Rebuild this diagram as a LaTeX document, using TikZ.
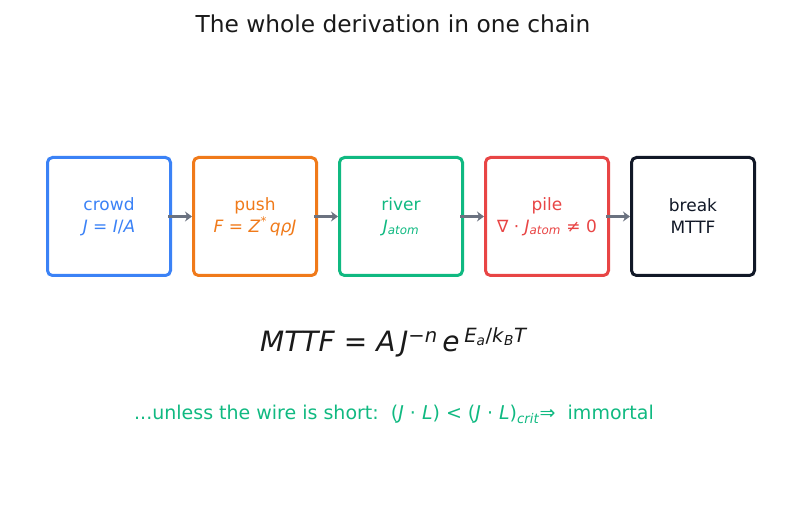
\documentclass[tikz,border=0pt]{standalone}
\usepackage{fontspec}
\setmainfont{DejaVu Sans}
\usetikzlibrary{positioning,arrows.meta}

\definecolor{crowdblue}{HTML}{3B82F6}
\definecolor{pushorange}{HTML}{F07A1A}
\definecolor{rivergreen}{HTML}{10B981}
\definecolor{pilered}{HTML}{E84545}
\definecolor{breakblack}{HTML}{111827}
\definecolor{arrowgray}{HTML}{6B7280}
\definecolor{inkblack}{HTML}{1A1A1A}

\newcommand{\mi}[1]{\textit{#1}}

\begin{document}
\begin{tikzpicture}[x=1pt, y=-1pt,
  stage/.style={draw, line width=3pt, rounded corners=5pt, minimum width=123pt,
    minimum height=118pt, align=center, font=\fontsize{17}{22}\selectfont},
  flow/.style={-{Stealth[length=7pt,width=10pt]}, line width=3.5pt, color=arrowgray,
    shorten <=-4pt}]
  \useasboundingbox (0,0) rectangle (787,510);

  \node[font=\fontsize{23.3}{28}\selectfont, text=inkblack] (title) at (393,24)
    {The whole derivation in one chain};

  % the chain
  \node[stage, color=crowdblue] (crowd) at (109,216.5) {crowd\\\mi{J} = \mi{I}/\mi{A}};
  \node[stage, color=pushorange, right=20pt of crowd] (push)
    {push\\\mi{F} = \mi{Z}\textsuperscript{*}\,\mi{qρJ}};
  \node[stage, color=rivergreen, right=20pt of push] (river)
    {river\\\mi{J}\textsubscript{\mi{atom}}};
  \node[stage, color=pilered, right=20pt of river] (pile)
    {pile\\∇ · \mi{J}\textsubscript{\mi{atom}} ≠ 0};
  \node[stage, color=breakblack, right=20pt of pile] (break) {break\\MTTF};

  \draw[flow] (crowd) -- (push);
  \draw[flow] (push) -- (river);
  \draw[flow] (river) -- (pile);
  \draw[flow] (pile) -- (break);

  % black's law and the way out
  \node[font=\fontsize{28}{34}\selectfont, text=inkblack] (law) at (394,342)
    {\mi{MTTF} = \mi{A}\,\mi{J}\textsuperscript{−\mi{n}}\,\mi{e}\,\textsuperscript{\mi{E}\textsubscript{\mi{a}}/\mi{k}\textsubscript{\mi{B}}\mi{T}}};
  \node[font=\fontsize{19}{23}\selectfont, text=rivergreen] (short) at (394,414)
    {...unless the wire is short:\ \ (\mi{J} · \mi{L}) < (\mi{J} · \mi{L})\textsubscript{\mi{crit}}⇒\ \ immortal};
\end{tikzpicture}
\end{document}
